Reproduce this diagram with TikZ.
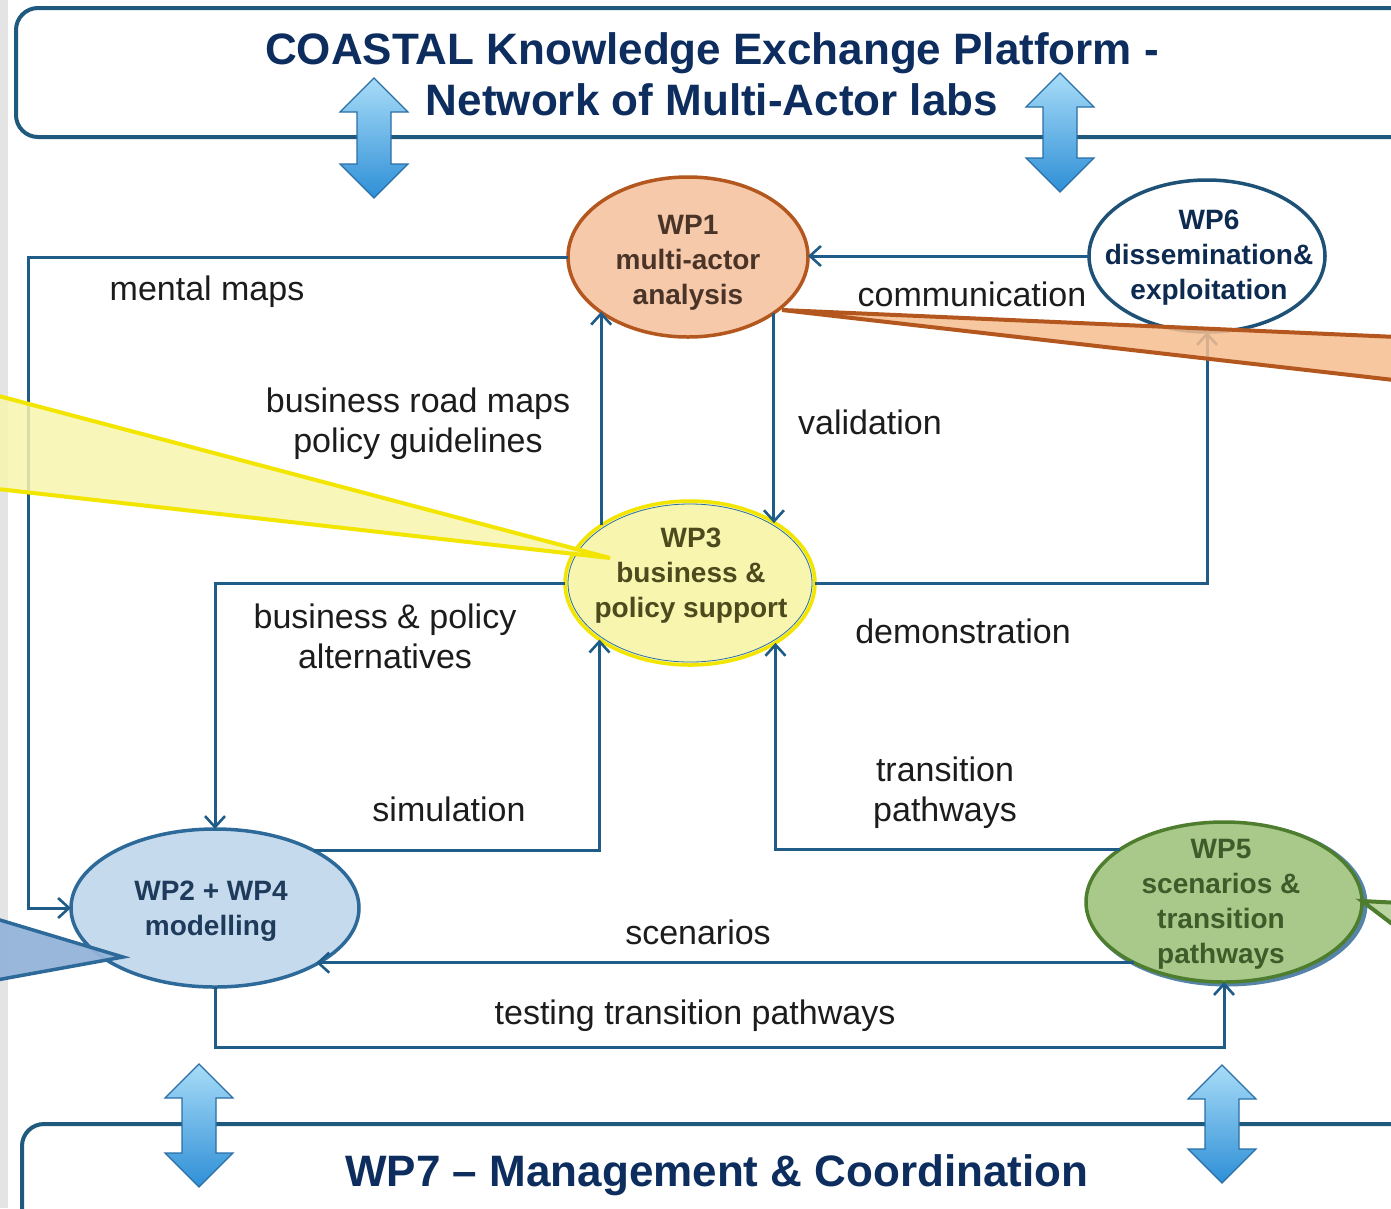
\documentclass[tikz,border=0pt]{standalone}
\usepackage{fontspec}
\setmainfont{Liberation Sans}
\usetikzlibrary{arrows.meta,shapes.geometric}
\definecolor{boxline}{HTML}{1F5A7E}
\definecolor{titlecol}{HTML}{0C2D5E}
\definecolor{conncol}{HTML}{1F5C87}
\definecolor{lblcol}{HTML}{1C1C1C}
\definecolor{arrtop}{HTML}{A8DCF8}
\definecolor{arrbot}{HTML}{2E8FD6}
\definecolor{arrline}{HTML}{2A6FA6}
\definecolor{wponefill}{HTML}{F5C9A9}
\definecolor{wponeline}{HTML}{B4571F}
\definecolor{wponetext}{HTML}{4A3428}
\definecolor{wpsixline}{HTML}{1D5276}
\definecolor{wpsixtext}{HTML}{0D2B50}
\definecolor{wpthreefill}{HTML}{F8F5AE}
\definecolor{wpthreeline}{HTML}{F2E500}
\definecolor{wpthreetext}{HTML}{4D4A1E}
\definecolor{wptwofill}{HTML}{C6DAED}
\definecolor{wptwoline}{HTML}{2D6A9A}
\definecolor{wptwotext}{HTML}{1F3B5C}
\definecolor{wptwocall}{HTML}{94B4DA}
\definecolor{wpfivefill}{HTML}{A9C98B}
\definecolor{wpfiveline}{HTML}{4E7D2E}
\definecolor{wpfivetext}{HTML}{3D5C2A}
\definecolor{shadowcol}{HTML}{1E5A8C}
\definecolor{stripgray}{HTML}{E4E4E4}
\begin{document}
\begin{tikzpicture}[x=1pt,y=-1pt,
  wp/.style={ellipse, inner sep=0pt, outer sep=0pt, line width=3.5pt},
  wptext/.style={align=center, font=\bfseries\fontsize{28}{35}\selectfont},
  lbl/.style={align=center, text=lblcol, font=\fontsize{34}{40}\selectfont, inner sep=0pt},
  conn/.style={draw=conncol, line width=3pt},
  arr/.style={conn, -{Straight Barb[length=11pt,width=20pt,line width=2.6pt]}},
  title/.style={text=titlecol, font=\bfseries\fontsize{44}{52}\selectfont, inner sep=0pt, anchor=base},
  outerbox/.style={draw=boxline, line width=4pt, rounded corners=22pt},
  pics/dblarrow/.style={code={
    \shade[top color=arrtop, bottom color=arrbot, draw=arrline, line width=1.2pt]
      (0,0) -- (34,34) -- (17,34) -- (17,#1-34) -- (34,#1-34) -- (0,#1)
      -- (-34,#1-34) -- (-17,#1-34) -- (-17,34) -- (-34,34) -- cycle;
  }}
]
\useasboundingbox (0,0) rectangle (1391,1208);
\clip (0,0) rectangle (1391,1208);
\fill[white] (0,0) rectangle (1391,1208);
\fill[stripgray] (0,0) rectangle (8,1208);

% platform boxes
\draw[outerbox] (16,8) rectangle (1440,137);
\draw[outerbox] (22,1124) rectangle (1440,1270);

% titles
\node[title] (ttl1) at (712,64) {COASTAL Knowledge Exchange Platform -};
\node[title] (ttl2) at (712,115) {Network of Multi-Actor labs};
\node[title] (ttl3) at (717,1186) {WP7 -- Management \& Coordination};

% block double arrows
\pic at (374,78) {dblarrow=120};
\pic at (1060,73) {dblarrow=119};
\pic at (199,1064) {dblarrow=123};
\pic at (1222,1065) {dblarrow=118};

% shadow of WP5
\draw[draw=shadowcol, line width=5pt, opacity=0.75] (1227,904) ellipse [x radius=138, y radius=80];

% work package ellipses
\node[wp, draw=wponeline, fill=wponefill, minimum width=240pt, minimum height=160pt] (wp1) at (688,257) {};
\node[wp, draw=wpsixline, fill=white, minimum width=236pt, minimum height=152pt] (wp6) at (1207,256) {};
\node[wp, draw=wpthreeline, fill=wpthreefill, minimum width=250pt, minimum height=164pt] (wp3) at (690,583) {};
\draw[draw=arrline, line width=0.8pt] (wp3.center) ellipse [x radius=122, y radius=79];
\node[wp, draw=wptwoline, fill=wptwofill, minimum width=288pt, minimum height=158pt] (wp2) at (215,908) {};
\node[wp, draw=wpfiveline, fill=wpfivefill, minimum width=276pt, minimum height=160pt] (wp5) at (1224,902) {};

% connectors
\draw[arr] (wp1.west) -- ++(-540,0) |- (wp2.west);
\draw[arr] (wp6.west) -- (wp6.west -| wp1.east);
\draw[arr] (wp1.327.7) -- (wp1.327.7 |- wp3.35.3);
\draw[arr] (wp3.147.1) -- (wp3.147.1 |- wp1.212.3);
\draw[arr] (wp3.east) -| (wp6.south);
\draw[arr] (wp3.west) -| (wp2.north);
\draw[arr] (wp2.30.7) -| (wp3.212.9);
\draw[arr] (wp5.153.6) -| (wp3.325.3);
\draw[arr] (wp5.214.3) -- (wp5.214.3 -| wp2.331.1);
\draw[arr] (wp2.south) -- ++(0,60) -| (wp5.south);

% callouts
\draw[draw=wpthreeline, line width=4pt, fill=wpthreefill, fill opacity=0.85, line join=miter]
  (-20,391) -- (610,558) -- (-20,487);
\draw[draw=wponeline, line width=4pt, fill=wponefill!85!orange, fill opacity=0.85]
  (782,310) -- (1420,338) -- (1420,383) -- cycle;
\draw[draw=wptwoline, line width=3.5pt, fill=wptwocall, fill opacity=0.95]
  (-20,914) -- (123,957) -- (-20,983);
\draw[draw=wpfiveline, line width=4pt, fill=wpfivefill!80!white]
  (1362,901) -- (1420,904) -- (1420,945) -- cycle;

% ellipse texts
\node[wptext, text=wponetext] (wp1t) at (688,263) {WP1\\multi-actor\\analysis};
\node[wptext, text=wpsixtext] (wp6t) at (1209,258) {WP6\\dissemination\&\\exploitation};
\node[wptext, text=wpthreetext] (wp3t) at (691,576) {WP3\\business \&\\policy support};
\node[wptext, text=wptwotext] (wp2t) at (211,911) {WP2 + WP4\\modelling};
\node[wptext, text=wpfivetext] (wp5t) at (1221,904) {WP5\\scenarios \&\\transition\\pathways};

% connector labels
\node[lbl] (l1) at (207,292) {mental maps};
\node[lbl] (l2) at (972,294) {communication};
\node[lbl] (l3) at (418,424) {business road maps\\policy guidelines};
\node[lbl] (l4) at (870,422) {validation};
\node[lbl] (l5) at (385,636) {business \& policy\\alternatives};
\node[lbl] (l6) at (963,631) {demonstration};
\node[lbl] (l7) at (449,809) {simulation};
\node[lbl] (l8) at (945,793) {transition\\pathways};
\node[lbl] (l9) at (698,932) {scenarios};
\node[lbl] (l10) at (695,1016) {testing transition pathways};
\end{tikzpicture}
\end{document}
